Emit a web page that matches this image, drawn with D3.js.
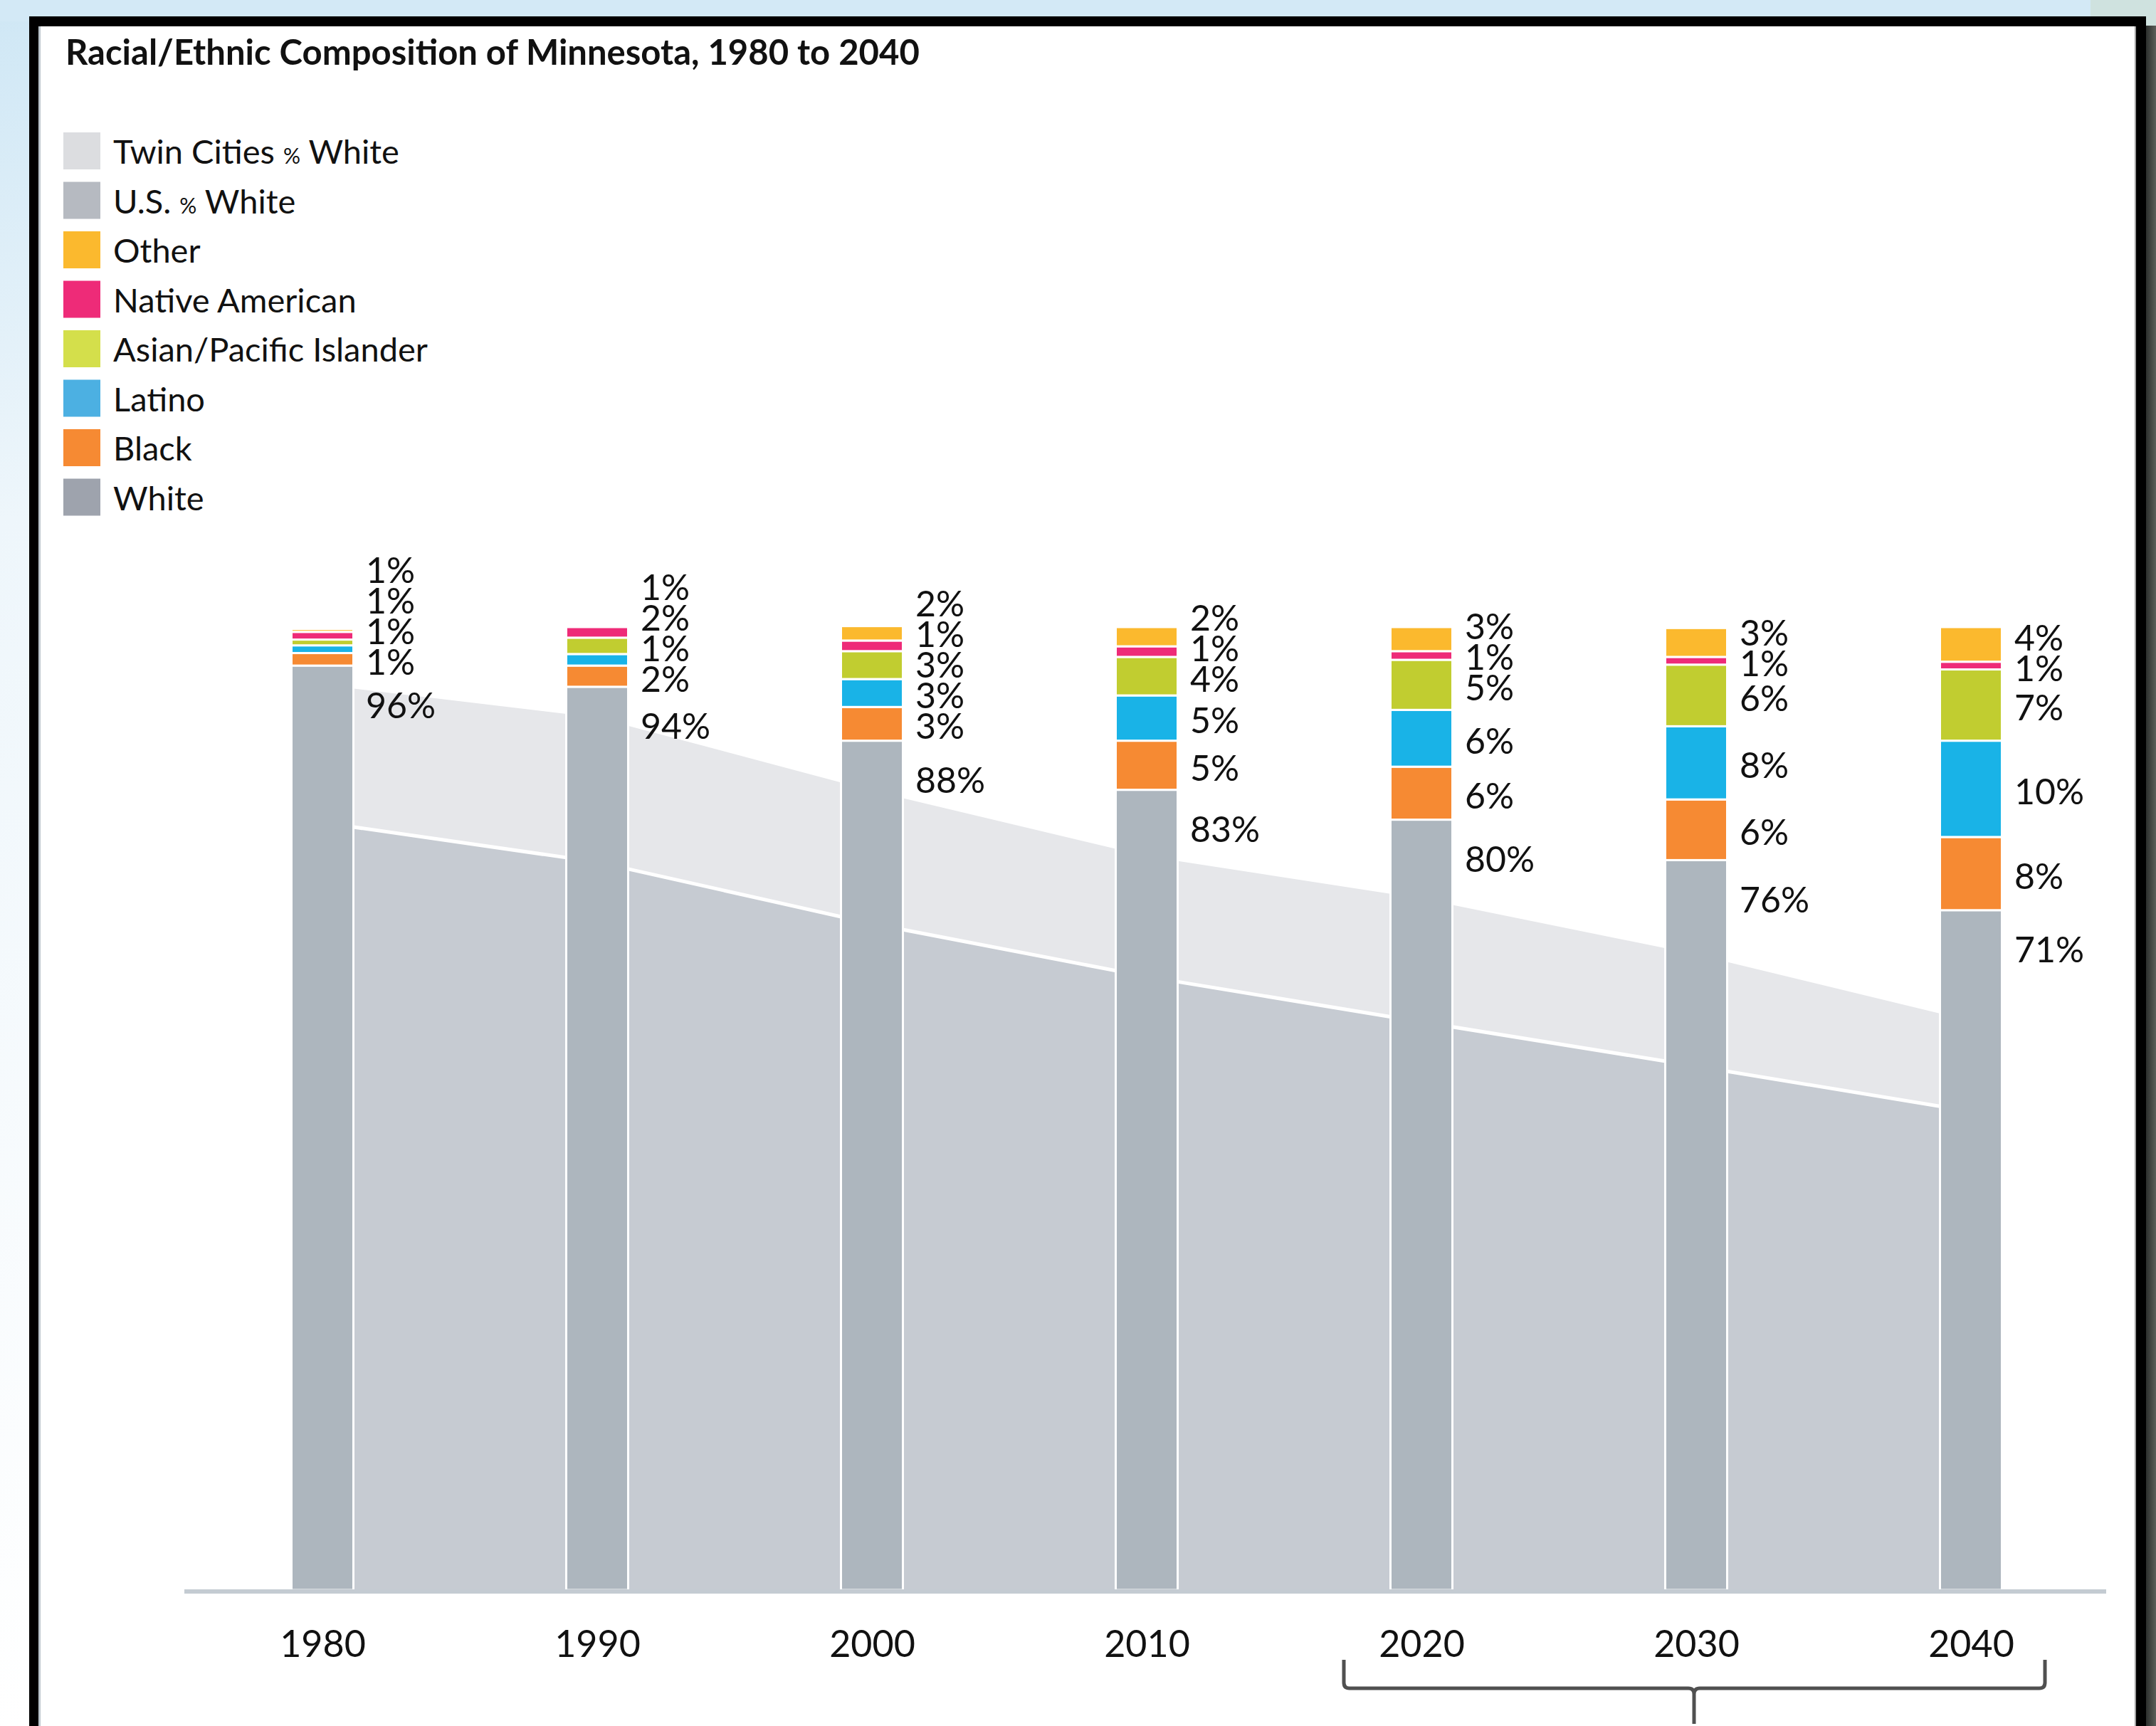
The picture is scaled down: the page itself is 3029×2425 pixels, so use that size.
<!DOCTYPE html>
<html>
<head>
<meta charset="utf-8">
<script src="https://cdn.jsdelivr.net/npm/d3@7"></script>
<style>
  body { margin: 0; background: #fff; }
  svg { display: block; }
  text { font-family: Lato, "Noto Sans", sans-serif; fill: #111; }
</style>
</head>
<body>
<script>
var W = 3029, H = 2425;

var years = [1980, 1990, 2000, 2010, 2020, 2030, 2040];

// share of Minnesota population, % (segment heights)
var white  = [96.0, 93.8, 88.2, 83.1, 80.0, 75.8, 70.6];
var black  = [1.3, 2.2, 3.5, 5.1, 5.5, 6.3, 7.6];
var latino = [0.8, 1.2, 2.9, 4.7, 5.9, 7.6, 10.0];
var asian  = [0.6, 1.7, 2.9, 4.0, 5.2, 6.4, 7.4];
var native = [0.8, 1.1, 1.1, 1.1, 0.9, 0.8, 0.8];
var other  = [0.3, 0.0, 1.5, 2.0, 2.5, 3.0, 3.6];

// the rounded numbers printed next to the bars
var whiteLbl  = [96, 94, 88, 83, 80, 76, 71];
var blackLbl  = [1, 2, 3, 5, 6, 6, 8];
var latinoLbl = [1, 1, 3, 5, 6, 8, 10];
var asianLbl  = [1, 2, 3, 4, 5, 6, 7];
var nativeLbl = [1, 1, 1, 1, 1, 1, 1];
var otherLbl  = [null, null, 2, 2, 3, 3, 4];

// background areas
var twinCitiesWhite = [94.0, 90.6, 83.0, 76.2, 71.8, 66.0, 59.1];
var usWhite         = [79.7, 75.6, 69.2, 63.7, 59.0, 54.4, 49.7];

var keys = ['white', 'black', 'latino', 'asian', 'native', 'other'];
var series = {white: white, black: black, latino: latino, asian: asian, native: native, other: other};
var labels = {white: whiteLbl, black: blackLbl, latino: latinoLbl, asian: asianLbl, native: nativeLbl, other: otherLbl};
var barColor = {white: '#adb6be', black: '#f68a33', latino: '#19b3e7', asian: '#c1cd30', native: '#ee2b78', other: '#fbb92e'};

var legendItems = [
  {name: 'Twin Cities % White', color: '#dcdde0'},
  {name: 'U.S. % White', color: '#b6bac1'},
  {name: 'Other', color: '#fbb92e'},
  {name: 'Native American', color: '#ee2b78'},
  {name: 'Asian/Pacific Islander', color: '#d4df4b'},
  {name: 'Latino', color: '#4cb0e2'},
  {name: 'Black', color: '#f68a33'},
  {name: 'White', color: '#9ea3ad'}
];

var rows = years.map(function(yr, i) {
  var r = {year: yr};
  keys.forEach(function(k) { r[k] = series[k][i]; });
  return r;
});

var svg = d3.select('body').append('svg')
  .attr('width', W)
  .attr('height', H);

// ---- page background + frame
var defs = svg.append('defs');
var lg = defs.append('linearGradient').attr('id', 'sky')
  .attr('x1', 0).attr('y1', 0).attr('x2', 0).attr('y2', 1);
lg.append('stop').attr('offset', 0).attr('stop-color', '#cfe7f5');
lg.append('stop').attr('offset', 0.3).attr('stop-color', '#eef6fb');
lg.append('stop').attr('offset', 1).attr('stop-color', '#ffffff');
var rg = defs.append('linearGradient').attr('id', 'dark')
  .attr('x1', 0).attr('y1', 0).attr('x2', 1).attr('y2', 0);
rg.append('stop').attr('offset', 0).attr('stop-color', '#2c2f2d');
rg.append('stop').attr('offset', 1).attr('stop-color', '#5b5e59');

svg.append('rect').attr('width', W).attr('height', H).attr('fill', 'url(#sky)');
svg.append('rect').attr('width', W).attr('height', 30).attr('fill', '#d3e9f6');
svg.append('rect').attr('x', 2937).attr('width', W - 2937).attr('height', 40).attr('fill', '#cfe2df');
svg.append('rect').attr('x', 3015).attr('y', 36).attr('width', W - 3015).attr('height', H).attr('fill', 'url(#dark)');
svg.append('rect').attr('x', 41).attr('y', 23).attr('width', 3015 - 41).attr('height', H).attr('fill', '#000');
svg.append('rect').attr('x', 54).attr('y', 37).attr('width', 3001 - 54).attr('height', H).attr('fill', '#fff');
svg.append('rect').attr('x', 54).attr('y', 37).attr('width', 3).attr('height', H).attr('fill', '#bcc6cd');
svg.append('rect').attr('x', 2999).attr('y', 37).attr('width', 2).attr('height', H).attr('fill', '#a0a0a0');

// ---- title
svg.append('text')
  .attr('x', 92).attr('y', 91)
  .style('font-size', '49px').style('font-weight', 700)
  .text('Racial/Ethnic Composition of Minnesota, 1980 to 2040');

// ---- legend
var leg = svg.append('g').selectAll('g')
  .data(legendItems).enter().append('g')
  .attr('transform', function(d, i) { return 'translate(89,' + (186 + i * 69.5) + ')'; });
leg.append('rect').attr('width', 52).attr('height', 52).attr('fill', function(d) { return d.color; });
leg.each(function(d) {
  var t = d3.select(this).append('text').attr('x', 70).attr('y', 44).style('font-size', '47px');
  var parts = d.name.split('%');
  t.append('tspan').text(parts[0]);
  if (parts.length > 1) {
    t.append('tspan').style('font-size', '30px').text('%');
    t.append('tspan').text(parts[1]);
  }
});

// ---- scales
var x = d3.scaleLinear().domain([1980, 2040]).range([453, 2769]);
var y = d3.scaleLinear().domain([0, 100]).range([2234, 881]);
var barW = 84;

// ---- background areas
var area = d3.area()
  .x(function(d, i) { return x(years[i]); })
  .y0(y(0))
  .y1(function(d) { return y(d); });
svg.append('path').datum(twinCitiesWhite).attr('d', area).attr('fill', '#e6e7ea');
svg.append('path').datum(usWhite).attr('d', area).attr('fill', '#c6cbd2');
svg.append('path').datum(usWhite)
  .attr('d', d3.line().x(function(d, i) { return x(years[i]); }).y(function(d) { return y(d); }))
  .attr('fill', 'none').attr('stroke', '#fff').attr('stroke-width', 5);

// ---- stacked bars
var stacked = d3.stack().keys(keys)(rows);
var layer = svg.append('g').selectAll('g')
  .data(stacked).enter().append('g')
  .attr('fill', function(d) { return barColor[d.key]; });
layer.selectAll('rect')
  .data(function(d) { return d.filter(function(p) { return p[1] - p[0] > 0; }); })
  .enter().append('rect')
  .attr('x', function(d) { return x(d.data.year) - barW / 2 - 1.5; })
  .attr('width', barW + 3)
  .attr('y', function(d) { return y(d[1]); })
  .attr('height', function(d) { return y(d[0]) - y(d[1]); })
  .attr('stroke', '#fff')
  .attr('stroke-width', 3);

// ---- value labels (small ones pushed upward so they don't pile up)
var lblG = svg.append('g').style('font-size', '50px');
years.forEach(function(yr, i) {
  var lx = x(yr) + barW / 2 + 19;
  lblG.append('text').attr('x', lx).attr('y', y(white[i]) + 56).attr('dy', '0.35em')
    .text(whiteLbl[i] + '%');
  var prev = Infinity;
  keys.slice(1).forEach(function(k) {
    var s = stacked[keys.indexOf(k)][i];
    if (labels[k][i] == null) return;
    var c = Math.min((y(s[0]) + y(s[1])) / 2 + 4, prev - 43);
    prev = c;
    lblG.append('text').attr('x', lx).attr('y', c).attr('dy', '0.35em')
      .text(labels[k][i] + '%');
  });
});

// ---- baseline + year axis
svg.append('line')
  .attr('x1', 259).attr('x2', 2959)
  .attr('y1', 2236).attr('y2', 2236)
  .attr('stroke', '#c4cbd2').attr('stroke-width', 6);

var axis = svg.append('g')
  .attr('transform', 'translate(0,2236)')
  .call(d3.axisBottom(x).tickValues(years).tickFormat(d3.format('d')).tickSize(0).tickPadding(55));
axis.select('.domain').remove();
axis.selectAll('text').style('font-size', '52px').style('font-family', 'Lato, "Noto Sans", sans-serif').attr('fill', '#111');

// ---- projection brace under 2020-2040
var bx0 = x(2020) - 109, bx1 = x(2040) + 104, bm = x(2030) - 3;
var braceTop = 2332, hy = 2372, rad = 8;
var p = d3.path();
p.moveTo(bx0, braceTop); p.lineTo(bx0, hy - rad); p.quadraticCurveTo(bx0, hy, bx0 + rad, hy);
p.lineTo(bm - rad, hy); p.quadraticCurveTo(bm, hy, bm, hy + rad); p.lineTo(bm, 2422);
p.moveTo(bm, hy + rad); p.quadraticCurveTo(bm, hy, bm + rad, hy);
p.lineTo(bx1 - rad, hy); p.quadraticCurveTo(bx1, hy, bx1, hy - rad); p.lineTo(bx1, braceTop);
svg.append('path').attr('d', p.toString())
  .attr('fill', 'none').attr('stroke', '#505050').attr('stroke-width', 5);
</script>
</body>
</html>
